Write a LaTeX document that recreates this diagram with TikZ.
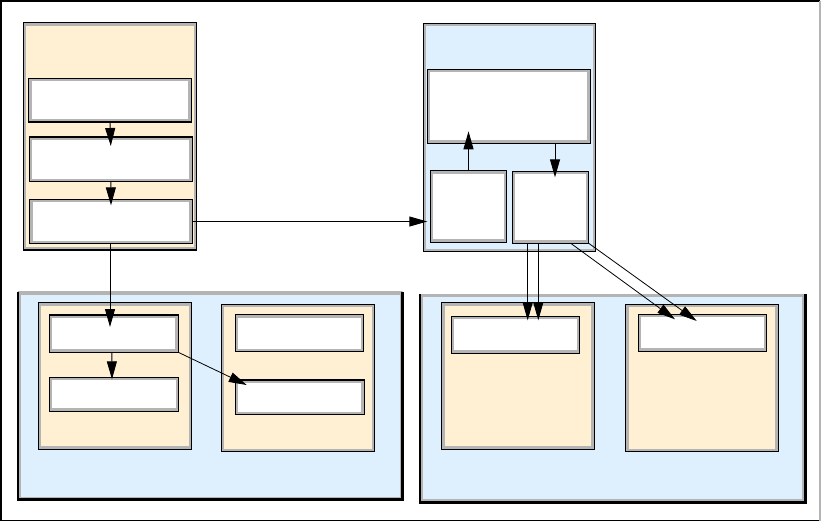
\documentclass[tikz,border=0pt]{standalone}
\usetikzlibrary{arrows.meta,calc,fit}
\definecolor{beige}{RGB}{255,240,212}
\definecolor{lblue}{RGB}{222,239,253}
\definecolor{band}{RGB}{180,180,180}
\tikzset{
  bx/.style={draw=black, line width=1.4pt, inner sep=0pt, outer sep=0pt,
    path picture={\draw[band, line width=6pt] (path picture bounding box.south west) rectangle (path picture bounding box.north east);}},
  wbox/.style={bx, fill=white},
  ybox/.style={bx, fill=beige},
  bbox/.style={bx, fill=lblue},
  cont/.style={inner sep=0pt, outer sep=0pt, fill=lblue,
    path picture={\draw[band, line width=6pt] (path picture bounding box.south west) rectangle (path picture bounding box.north east);}},
  arr/.style={line width=0.9pt, -{Triangle[length=18pt,width=10pt]}},
  thin arr/.style={line width=0.8pt, -{Triangle[length=18pt,width=10pt]}},
}
\begin{document}
\begin{tikzpicture}[x=1pt,y=-1pt]
\useasboundingbox (0,0) rectangle (821,523);
% outer frame
\draw[black, line width=1.3pt] (820,1) -- (1,1) -- (1,520.5) -- (820,520.5);
\draw[band, line width=1.3pt] (820,1) -- (820,520.5);

% top-left container
\node[ybox, fit={(23.3,22.7) (196.7,250)}] (TL) {};
\node[wbox, fit={(28.7,78.3) (191.3,122)}] (A) {};
\node[wbox, fit={(29.3,137) (192.3,181.7)}] (B) {};
\node[wbox, fit={(29.7,199.3) (192.3,243.7)}] (C) {};

% top-right container
\node[bbox, fit={(423.3,23.3) (595.7,251.7)}] (TR) {};
\node[wbox, fit={(427.3,69.3) (590.3,143.3)}] (D) {};
\node[wbox, fit={(430.3,170.7) (506.7,242.3)}] (E) {};
\node[wbox, fit={(512.3,171.3) (588.7,243.3)}] (F) {};

% bottom-left container
\node[cont, fit={(18,291.7) (402.7,499.5)}] (BL) {};
\draw[line width=1.3pt] (BL.north west) -- (BL.south west);
\draw[line width=3.2pt] ([xshift=-0.65pt]BL.south west) -- (BL.south east) -- (BL.north east);
\node[ybox, fit={(38.3,302.7) (191.7,449.3)}] (G) {};
\node[wbox, fit={(49.3,315) (178.3,352.3)}] (H) {};
\node[wbox, fit={(49.3,377.3) (178.7,411.3)}] (I) {};
\node[ybox, fit={(221.3,304.3) (374.7,451.7)}] (J) {};
\node[wbox, fit={(235.3,314.7) (363.7,351.7)}] (K) {};
\node[wbox, fit={(235.3,380) (364.3,414.7)}] (L) {};

% bottom-right container
\node[cont, fit={(420,294) (805.2,502.3)}] (BR) {};
\draw[line width=1.3pt] (BR.north west) -- (BR.south west);
\draw[line width=3.2pt] ([xshift=-0.65pt]BR.south west) -- (BR.south east) -- (BR.north east);
\node[ybox, fit={(441.7,302.7) (594.3,449.3)}] (M) {};
\node[wbox, fit={(451.3,316.3) (579.7,353.3)}] (N) {};
\node[ybox, fit={(625.7,304.3) (778.3,451.7)}] (O) {};
\node[wbox, fit={(638.3,314.3) (766.7,351.3)}] (P) {};

% connectors
\draw[arr] (A.south) -- ($(B.north)+(0,9)$);
\draw[arr] (B.south) -- ($(C.north)+(0,6)$);
\coordinate (c1) at ($(C.south)+(-1,0)$);
\draw[arr] (c1) -- ($(c1 |- H.north)+(0,12)$);
\draw[arr] (C.east) -- ($(C.east -| TR.west)+(4,0)$);
\draw[arr] (E.north) -- ($(E.north |- D.south)+(0,-12)$);
\coordinate (d1) at ($(F.north)+(4.5,0)$);
\draw[arr] (d1 |- D.south) -- ($(d1)+(0,6)$);
\draw[arr] ($(H.south)+(-2,0)$) -- ($(I.north)+(-2,2)$);
\draw[thin arr] (H.south east) -- ($(L.north west)+(11.4,5)$);
\coordinate (f1) at ($(F.south)+(-22.8,0)$);
\coordinate (f2) at ($(F.south)+(-12.2,0)$);
\coordinate (f3) at ($(F.south)+(20.2,0)$);
\draw[arr] (f1) -- ($(f1 |- N.north)+(0,4)$);
\draw[arr] (f2) -- ($(f2 |- N.north)+(0,4)$);
\draw[thin arr] (f3) -- ($(P.north west)+(36.7,5)$);
\draw[thin arr] (F.south east) -- ($(P.north west)+(58.4,6.7)$);
\end{tikzpicture}
\end{document}
